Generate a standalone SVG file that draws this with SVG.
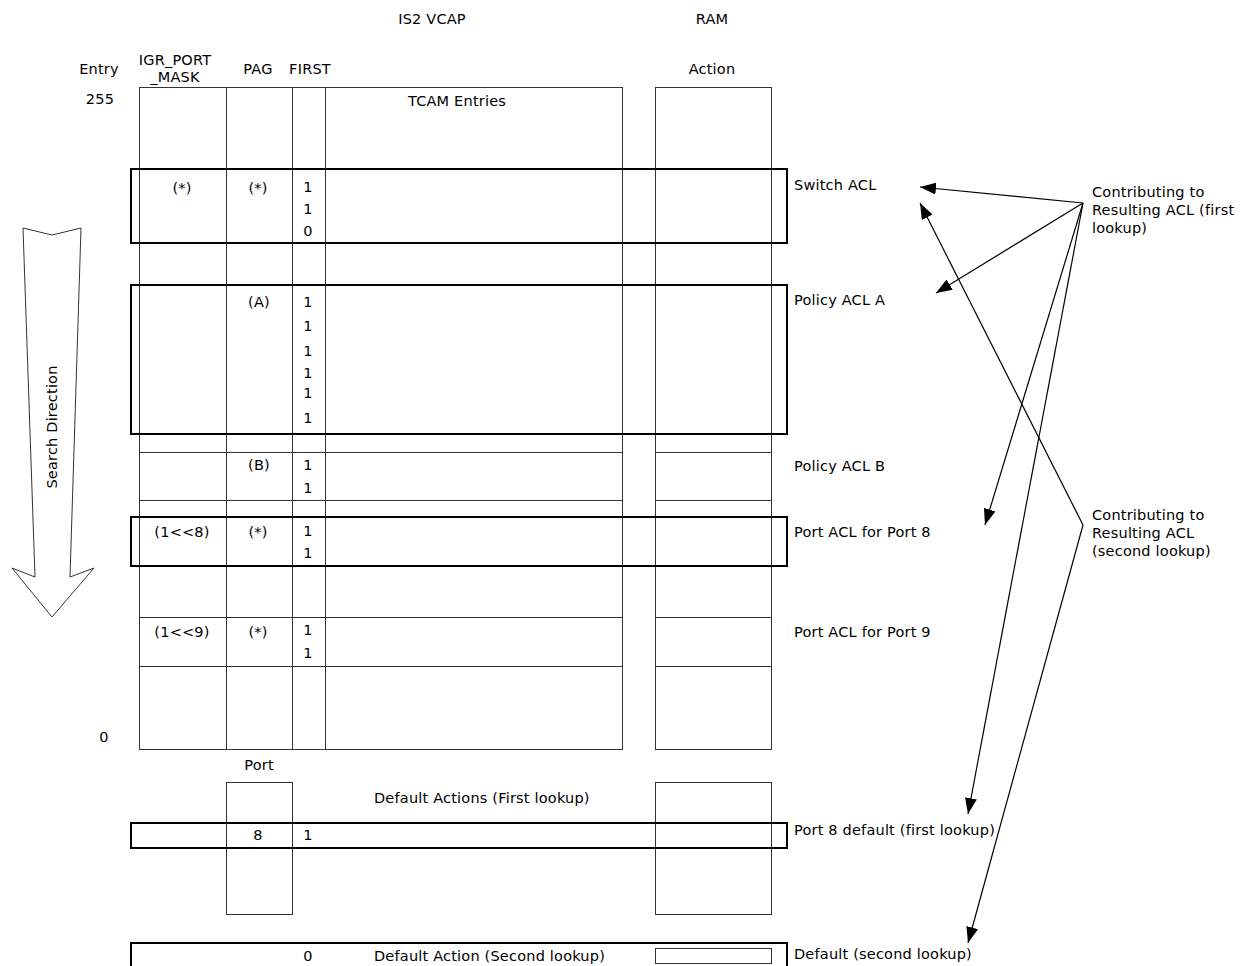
<svg xmlns="http://www.w3.org/2000/svg" width="1242" height="966" viewBox="0 0 1242 966">
<defs>
<style>
text{font-family:"DejaVu Sans","Verdana","Liberation Sans",sans-serif;font-size:14.5px;letter-spacing:0.2px;fill:#000}
.m{text-anchor:middle}
.thin{fill:none;stroke:#333;stroke-width:1}
.bold{fill:none;stroke:#000;stroke-width:2}
.conn{fill:none;stroke:#000;stroke-width:1.2}
</style>
<marker id="ah" markerUnits="userSpaceOnUse" markerWidth="17" markerHeight="12" refX="16" refY="6" orient="auto">
<path d="M0,0 L16,6 L0,12 z" fill="#000"/>
</marker>
</defs>
<rect width="1242" height="966" fill="#fff"/>

<g id="headers">
<text class="m" x="432" y="24">IS2 VCAP</text>
<text class="m" x="712" y="24">RAM</text>
<text class="m" x="99" y="74">Entry</text>
<text class="m" x="175" y="65">IGR_PORT</text>
<text class="m" x="175" y="82">_MASK</text>
<text class="m" x="258" y="74">PAG</text>
<text class="m" x="310" y="74">FIRST</text>
<text class="m" x="712" y="74">Action</text>
<text class="m" x="100" y="104">255</text>
<text class="m" x="104" y="742">0</text>
</g>

<g id="tcam-table">
<rect class="thin" x="139.5" y="87.5" width="483" height="662"/>
<path class="thin" d="M226.5,87.5V749.5M292.5,87.5V749.5M325.5,87.5V749.5"/>
<path class="thin" d="M139.5,452.5H622.5M139.5,500.5H622.5M139.5,617.5H622.5M139.5,666.5H622.5"/>
<text class="m" x="457" y="106">TCAM Entries</text>
</g>

<g id="ram-table">
<rect class="thin" x="655.5" y="87.5" width="116" height="662"/>
<path class="thin" d="M655.5,452.5H771.5M655.5,500.5H771.5M655.5,617.5H771.5M655.5,666.5H771.5"/>
</g>

<g id="switch-acl">
<rect class="bold" x="131" y="169" width="656" height="74"/>
<text class="m" x="182" y="193">(*)</text>
<text class="m" x="258" y="193">(*)</text>
<text class="m" x="308" y="192">1</text>
<text class="m" x="308" y="214">1</text>
<text class="m" x="308" y="236">0</text>
<text x="794" y="190">Switch ACL</text>
</g>

<g id="policy-acl-a">
<rect class="bold" x="131" y="285" width="656" height="149"/>
<text class="m" x="259" y="307">(A)</text>
<text class="m" x="308" y="307">1</text>
<text class="m" x="308" y="331">1</text>
<text class="m" x="308" y="356">1</text>
<text class="m" x="308" y="378">1</text>
<text class="m" x="308" y="398">1</text>
<text class="m" x="308" y="423">1</text>
<text x="794" y="305">Policy ACL A</text>
</g>

<g id="policy-acl-b">
<text class="m" x="259" y="470">(B)</text>
<text class="m" x="308" y="470">1</text>
<text class="m" x="308" y="493">1</text>
<text x="794" y="471">Policy ACL B</text>
</g>

<g id="port-acl-8">
<rect class="bold" x="131" y="517" width="656" height="49"/>
<text class="m" x="182" y="537">(1&lt;&lt;8)</text>
<text class="m" x="258" y="537">(*)</text>
<text class="m" x="308" y="536">1</text>
<text class="m" x="308" y="558">1</text>
<text x="794" y="537">Port ACL for Port 8</text>
</g>

<g id="port-acl-9">
<text class="m" x="182" y="637">(1&lt;&lt;9)</text>
<text class="m" x="258" y="637">(*)</text>
<text class="m" x="308" y="635">1</text>
<text class="m" x="308" y="658">1</text>
<text x="794" y="637">Port ACL for Port 9</text>
</g>

<g id="default-first">
<text class="m" x="259" y="770">Port</text>
<rect class="thin" x="226.5" y="782.5" width="66" height="132"/>
<rect class="thin" x="655.5" y="782.5" width="116" height="132"/>
<text x="374" y="803">Default Actions (First lookup)</text>
</g>

<g id="port8-default">
<rect class="bold" x="131" y="823" width="656" height="25"/>
<text class="m" x="258" y="840">8</text>
<text class="m" x="308" y="840">1</text>
<text x="794" y="835">Port 8 default (first lookup)</text>
</g>

<g id="default-second">
<rect class="bold" x="131" y="943" width="656" height="40"/>
<rect class="thin" x="655.5" y="948.5" width="116" height="15"/>
<text class="m" x="308" y="961">0</text>
<text x="374" y="961">Default Action (Second lookup)</text>
<text x="794" y="959">Default (second lookup)</text>
</g>

<g id="search-direction">
<polygon class="thin" points="23,228 52,235 81,228 70,577 94,568 52,617 12,568 35,577"/>
<text class="m" transform="translate(57,427) rotate(-90)">Search Direction</text>
</g>

<g id="contrib-first">
<text x="1092" y="197">Contributing to</text>
<text x="1092" y="215">Resulting ACL (first</text>
<text x="1092" y="233">lookup)</text>
</g>

<g id="contrib-second">
<text x="1092" y="520">Contributing to</text>
<text x="1092" y="538">Resulting ACL</text>
<text x="1092" y="556">(second lookup)</text>
</g>

<g id="connectors">
<line class="conn" x1="1083" y1="203" x2="920" y2="187" marker-end="url(#ah)"/>
<line class="conn" x1="1083" y1="203" x2="936" y2="293" marker-end="url(#ah)"/>
<line class="conn" x1="1083" y1="203" x2="985" y2="525" marker-end="url(#ah)"/>
<line class="conn" x1="1083" y1="203" x2="968" y2="814" marker-end="url(#ah)"/>
<line class="conn" x1="1083" y1="525" x2="920" y2="203" marker-end="url(#ah)"/>
<line class="conn" x1="1083" y1="525" x2="968" y2="943" marker-end="url(#ah)"/>
</g>
</svg>
